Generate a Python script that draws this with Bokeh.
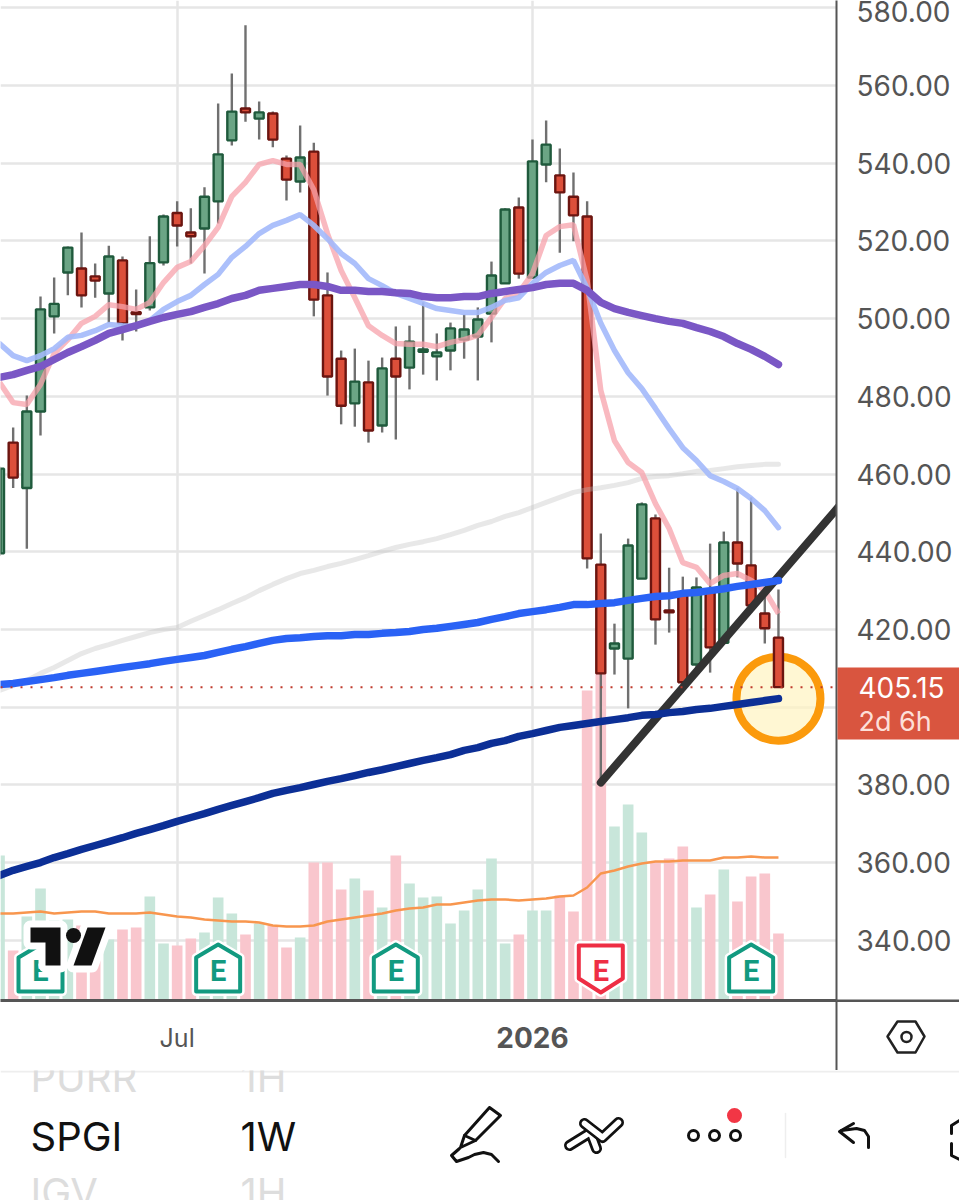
import numpy as np
from bokeh.embed import file_html
from bokeh.models import (ColumnDataSource, FixedTicker, LinearAxis, NumeralTickFormatter,
                          Range1d, Span)
from bokeh.plotting import figure
from bokeh.resources import INLINE
from bokeh.core.properties import value

ticker_name = "SPGI"
interval = "1W"
last_price = 405.15
countdown = "2d 6h"
price_ticks = [340, 360, 380, 400, 420, 440, 460, 480, 500, 520, 540, 560, 580]
time_ticks = [13, 39]
time_labels = ["Jul", "2026"]
earnings_up = [3, 16, 29, 55]
earnings_down = [44]

opens = [439.6,468.1,456.4,476.1,500.6,511.9,512.9,510.9,506.5,515.0,501.7,502.9,514.5,527.2,522.2,523.2,530.2,545.9,554.1,551.5,552.8,541.2,535.3,543.0,506.0,489.7,478.2,483.6,472.5,489.7,487.4,491.5,490.3,491.8,494.6,495.4,501.3,509.1,528.6,510.6,539.7,536.9,531.4,526.3,436.7,415.1,412.5,433.1,448.6,424.9,429.5,411.0,430.0,416.6,442.4,436.5,424.1,417.9]
highs = [461.9,472.0,480.2,505.7,510.6,518.6,522.2,514.2,518.8,516.0,507.5,521.2,526.8,530.2,528.4,533.8,555.4,563.1,575.5,555.9,553.3,542.0,549.7,545.3,511.9,491.8,492.3,489.2,490.0,498.0,498.2,504.2,496.2,499.0,501.1,502.9,514.7,528.4,531.2,546.1,551.0,543.8,537.6,530.2,444.7,421.5,443.4,452.7,449.6,435.9,433.6,433.4,442.1,445.2,456.5,454.0,430.8,430.3]
lows = [439.0,456.4,440.8,469.9,496.2,506.0,502.9,505.4,498.8,494.4,496.7,502.1,513.7,518.6,514.2,511.6,524.5,544.6,550.7,546.1,544.1,530.4,532.5,500.6,480.2,472.8,472.2,468.1,470.7,468.9,481.8,485.6,484.1,486.7,489.7,484.1,493.9,509.1,510.3,510.6,535.1,517.0,519.9,435.7,380.6,408.4,399.7,433.1,416.1,419.2,403.8,408.9,408.9,416.6,433.4,424.4,416.4,405.1]
closes = [461.4,459.1,476.1,502.4,503.8,518.3,506.0,509.8,516.0,498.8,501.2,514.3,526.3,524.0,521.2,531.4,542.3,553.3,553.1,553.1,546.1,535.8,541.5,504.9,485.1,477.6,483.8,471.2,487.2,485.1,494.1,492.1,491.3,497.5,497.2,499.8,511.1,528.1,511.6,540.5,544.8,532.5,526.6,438.3,408.7,416.4,441.6,452.2,422.6,424.4,406.4,430.8,415.4,442.4,437.0,426.2,420.3,405.15]
volumes = [2.90,1.00,1.68,2.24,1.60,1.62,1.50,1.50,1.22,1.42,1.46,2.08,1.14,1.10,1.24,1.36,2.06,1.74,1.32,1.54,1.50,1.06,1.26,2.76,2.76,2.22,2.44,2.20,1.86,2.90,2.34,2.06,2.08,1.54,1.80,2.22,2.84,1.14,1.32,1.80,1.80,2.10,1.78,6.20,6.54,3.48,3.92,3.36,2.78,2.84,3.08,1.86,2.12,2.62,1.98,2.48,2.54,1.34]
volume_ma = [1.74,1.74,1.76,1.78,1.74,1.76,1.78,1.78,1.74,1.74,1.74,1.76,1.72,1.68,1.66,1.62,1.60,1.58,1.58,1.56,1.50,1.48,1.48,1.50,1.58,1.62,1.66,1.70,1.74,1.80,1.84,1.86,1.92,1.92,1.96,2.00,2.02,2.02,2.00,2.02,2.04,2.08,2.10,2.26,2.54,2.60,2.68,2.74,2.78,2.78,2.80,2.80,2.80,2.86,2.86,2.88,2.86,2.86]
ma_pink = [483.6,478.4,477.9,483.1,491.0,494.6,498.8,500.6,503.6,503.1,502.4,504.2,509.3,513.2,514.7,518.8,523.5,531.5,535.1,539.7,540.7,539.7,539.7,533.2,521.9,512.4,505.4,498.2,495.7,493.6,493.4,493.4,492.8,493.9,494.6,495.7,500.3,505.2,506.7,511.6,521.4,523.7,524.2,509.8,481.5,468.6,463.0,460.4,452.4,446.0,437.2,436.0,431.8,433.9,434.4,432.6,430.0,424.1]
ma_light_blue = [493.6,490.5,489.2,490.5,492.3,495.2,495.7,496.9,498.5,498.2,498.0,499.5,502.4,504.4,506.0,508.8,511.4,515.8,518.6,521.9,524.0,525.3,526.8,524.0,520.6,516.8,514.2,510.3,508.5,506.5,505.2,503.9,502.6,502.1,501.6,501.6,502.9,504.7,505.4,509.1,511.9,513.7,515.0,507.8,498.8,491.8,486.1,482.0,476.9,471.7,466.8,463.5,459.6,458.1,456.3,453.7,450.6,446.2]
ma_purple = [484.9,485.6,486.7,487.7,489.5,491.3,492.8,494.4,496.2,497.2,498.2,499.3,500.3,501.1,501.8,502.9,503.9,505.2,506.0,507.3,507.8,508.3,508.8,508.8,508.3,507.3,507.3,507.0,507.0,506.7,506.5,505.7,505.4,505.4,505.7,505.7,506.5,507.0,507.5,508.0,508.8,509.1,509.1,507.3,504.2,502.6,501.6,500.8,500.0,499.3,498.8,497.7,496.7,495.4,493.6,492.1,490.3,488.2]
ma_grey = [404.3,405.6,406.9,408.7,410.2,412.0,413.8,415.1,416.1,417.2,418.2,419.2,420.0,420.5,422.1,423.6,425.1,426.7,428.2,430.0,431.6,433.1,434.4,435.2,436.2,437.0,438.0,439.0,440.1,441.1,441.9,442.6,443.4,444.4,445.5,446.8,447.8,449.1,450.1,451.4,452.7,454.0,455.3,456.0,456.5,457.1,457.8,458.9,459.4,459.6,460.1,460.7,460.9,461.4,461.9,462.2,462.5,462.5]
ma_blue = [405.8,406.1,406.6,407.1,407.6,408.2,408.7,409.2,409.7,410.2,410.7,411.2,411.8,412.3,412.8,413.3,414.1,414.9,415.6,416.4,417.2,417.7,417.9,418.2,418.4,418.4,418.7,418.7,419.0,419.2,419.5,420.0,420.3,420.8,421.3,421.8,422.6,423.3,424.1,424.6,425.1,425.7,426.4,426.4,426.7,426.9,427.5,428.0,428.5,428.7,429.3,429.5,430.0,430.5,431.1,431.6,432.1,432.6]
ma_navy = [356.7,358.0,359.0,360.0,361.3,362.3,363.4,364.4,365.4,366.4,367.5,368.5,369.5,370.6,371.6,372.6,373.7,374.7,375.7,376.7,377.8,378.6,379.3,380.1,380.9,381.6,382.4,383.2,383.9,384.7,385.5,386.3,387.0,387.8,388.9,389.6,390.7,391.4,392.5,393.2,394.0,394.8,395.3,395.8,396.3,396.8,397.3,397.9,398.1,398.6,398.9,399.4,399.7,400.2,400.7,401.2,401.7,402.2]
trend_x = [44, 62]
trend_y = [380.6, 454.0]
circle_x = [57]
circle_y = [402.2]

FONT = "Inter"
AXIS_TEXT = "#555555"
GREEN_FILL, GREEN_EDGE = "#6ba585", "#1f5a3c"
RED_FILL, RED_EDGE = "#dc4f3a", "#6b1510"
GREEN_VOL, RED_VOL = "#c8e6da", "#f9c6cd"

n = len(closes)
idx = np.arange(n)
up = np.array(closes) >= np.array(opens)
src = ColumnDataSource(dict(
    x=idx, h=highs, l=lows,
    top=np.maximum(opens, closes), bottom=np.minimum(opens, closes),
    fill=[GREEN_FILL if u else RED_FILL for u in up],
    edge=[GREEN_EDGE if u else RED_EDGE for u in up],
    vol=volumes,
    volcolor=[GREEN_VOL if u else RED_VOL for u in up],
))

BAR = 13.666
PPX = 0.2574
X = lambda px: (px + 1) / BAR          # screen px to bar index, for decoration only
Y = lambda py: 581.9 - py * PPX        # screen px to price, for decoration only
V = lambda py: (1000 - py) / 50        # screen px to volume, for decoration only

p = figure(width=959, height=1070, output_backend="svg", toolbar_location=None,
           x_range=Range1d(X(0), X(836)), y_range=Range1d(Y(1000), Y(0)),
           x_axis_location=None, y_axis_location=None,
           min_border_left=0, min_border_top=0, min_border_right=123, min_border_bottom=70,
           outline_line_color=None, background_fill_color="white", border_fill_color="white")
p.extra_y_ranges = {"vol": Range1d(0, 20)}

ax_r = LinearAxis(ticker=FixedTicker(ticks=price_ticks))
ax_r.formatter = NumeralTickFormatter(format="0.00")
ax_b = LinearAxis(ticker=FixedTicker(ticks=time_ticks),
                  major_label_overrides={time_ticks[0]: time_labels[0], time_ticks[1]: " "})
for ax in (ax_r, ax_b):
    ax.major_tick_line_color = None
    ax.minor_tick_line_color = None
    ax.axis_line_color = AXIS_TEXT
    ax.major_label_text_color = AXIS_TEXT
    ax.major_label_text_font = FONT
    ax.major_label_text_font_size = "28px"
ax_r.axis_line_width = 2
ax_b.axis_line_width = 3
ax_r.major_label_standoff = 14
ax_b.major_label_standoff = 16
ax_b.major_label_text_font_size = "25px"
p.add_layout(ax_r, "right")
p.add_layout(ax_b, "below")

p.xgrid.ticker = FixedTicker(ticks=time_ticks)
p.ygrid.ticker = FixedTicker(ticks=price_ticks)
for g in (p.xgrid, p.ygrid):
    g.grid_line_color = "#e6e6e6"
    g.grid_line_width = 2.5

# volume pane
p.vbar(x="x", top="vol", bottom=0, width=0.78, source=src, fill_color="volcolor",
       line_color=None, y_range_name="vol")
p.line(idx, volume_ma, color="#f8964e", line_width=2.5, y_range_name="vol")

# highlight circle
p.scatter(circle_x, circle_y, size=84, fill_color="#fff3c0", fill_alpha=0.7,
          line_color="#fb9a0c", line_width=8)

# price line
p.add_layout(Span(location=last_price, dimension="width", line_color="#c0392b",
                  line_dash="2 8", line_width=2))

# candles
p.segment(x0="x", x1="x", y0="l", y1="h", source=src, line_color="#707070", line_width=2.4)
p.vbar(x="x", top="top", bottom="bottom", width=0.66, source=src, fill_color="fill",
       line_color="edge", line_width=2.4)

# averages
p.line(idx, ma_grey, color="#bdbdbd", alpha=0.35, line_width=5, line_cap="round")
p.line(idx, ma_pink, color="#f7a1ab", alpha=0.75, line_width=5.5)
p.line(idx, ma_light_blue, color="#a3b9fb", alpha=0.9, line_width=5.5, line_cap="round")
p.line(idx, ma_purple, color="#7a57c5", line_width=7.5, line_cap="round")
p.line(trend_x, trend_y, color="#333333", line_width=8, line_cap="round")
p.line(idx, ma_blue, color="#2a62f5", line_width=7.5, line_cap="round")
p.line(idx, ma_navy, color="#0c2f96", line_width=7.5, line_cap="round")

# earnings markers
up_shape = [(0, -24), (22, -11), (22, 23), (-22, 23), (-22, -11)]
down_shape = [(-22, -23), (22, -23), (22, 10), (0, 24), (-22, 10)]
def marker(i, shape, color):
    cx = -1 + BAR * i
    xs = [X(cx + dx) for dx, dy in shape]
    ys = [V(968 + dy) for dx, dy in shape]
    p.patch(xs, ys, fill_color="white", line_color="white", line_width=9, line_join="round",
            y_range_name="vol")
    p.patch(xs, ys, fill_color="white", line_color=color, line_width=4, line_join="round",
            y_range_name="vol")
    p.text([i], [V(970)], text=["E"], text_color=color, text_font=value("Roboto"),
           text_font_style="bold", text_font_size="29px", text_align="center",
           text_baseline="middle", y_range_name="vol")
for i in earnings_up:
    marker(i, up_shape, "#129a80")
for i in earnings_down:
    marker(i, down_shape, "#ee2e44")

# watermark
logo_t = [(30, 927), (60, 927), (60, 965), (45, 965), (45, 942), (30, 942)]
logo_s = [(87, 927), (105, 927), (91, 965), (73, 965)]
for shape in (logo_t, logo_s):
    xs = [X(a) for a, b in shape]
    ys = [Y(b) for a, b in shape]
    p.patch(xs, ys, fill_color="white", line_color="white", line_width=14, line_join="round")
for shape in (logo_t, logo_s):
    xs = [X(a) for a, b in shape]
    ys = [Y(b) for a, b in shape]
    p.patch(xs, ys, fill_color="#111111", line_color=None)
p.scatter([X(73)], [Y(935)], size=15, fill_color="#111111", line_color=None)

# overlay for what sits outside the plot frame: price tag, axis extensions, icon, bold label
r = figure(width=959, height=1070, output_backend="svg", toolbar_location=None,
           x_range=Range1d(0, 959), y_range=Range1d(1070, 0),
           x_axis_location=None, y_axis_location=None, min_border=0,
           outline_line_color=None, background_fill_alpha=0, border_fill_alpha=0,
           styles={"position": "absolute", "left": "0px", "top": "0px"})
r.grid.visible = False
r.quad(left=[835], right=[837], top=[1000], bottom=[1070], color=AXIS_TEXT, line_color=None)
r.quad(left=[836], right=[959], top=[999], bottom=[1001.5], color=AXIS_TEXT, line_color=None)
r.quad(left=[837], right=[959], top=[667], bottom=[739], color="#d9553f", line_color=None)
r.text([858], [687], text=[f"{last_price:.2f}"], text_color="white", text_font=value(FONT),
       text_font_size="28px", text_baseline="middle")
r.text([858], [720.5], text=[countdown], text_color="#fddfd8", text_font=value(FONT),
       text_font_size="27px", text_baseline="middle")
r.text([-1 + BAR * time_ticks[1]], [1037], text=[time_labels[1]], text_color=AXIS_TEXT,
       text_font=value(FONT), text_font_style="bold", text_font_size="28px",
       text_align="center", text_baseline="middle")
hexagon = [(887, 1036), (897, 1021), (915, 1021), (924, 1036), (915, 1052), (897, 1052)]
r.patch([a for a, b in hexagon], [b for a, b in hexagon], fill_alpha=0, line_color="#222222",
        line_width=2.5, line_join="round")
r.scatter([906], [1036.5], size=10, fill_alpha=0, line_color="#222222", line_width=2.5)

# bottom bar
q = figure(width=959, height=130, output_backend="svg", toolbar_location=None,
           x_range=Range1d(0, 959), y_range=Range1d(1200, 1070),
           x_axis_location=None, y_axis_location=None, min_border=0,
           outline_line_color=None, background_fill_color="white", border_fill_color="white",
           styles={"position": "absolute", "left": "0px", "top": "1070px"})
q.grid.visible = False
q.line([0, 959], [1071, 1071], color="#eeeeee", line_width=2)

def bar_text(x, y, t, color):
    q.text([x], [y], text=[t], text_color=color, text_font=value(FONT), text_font_size="40px",
           text_baseline="alphabetic", text_align="left")
bar_text(30, 1077, "PURR", "#dddddd")
bar_text(240, 1077, "1H", "#dddddd")
bar_text(30, 1136, ticker_name, "#111111")
bar_text(240, 1136, interval, "#111111")
bar_text(30, 1192, "IGV", "#dddddd")
bar_text(240, 1192, "1H", "#dddddd")

INK = "#111111"
def stroke(pts, w=3, color=INK):
    q.line([a for a, b in pts], [b for a, b in pts], color=color, line_width=w,
           line_cap="round", line_join="round")
stroke([(489, 1107), (464, 1135), (460, 1147), (475, 1140), (500, 1115), (489, 1107)])
stroke([(464, 1135), (475, 1140)])
stroke([(498, 1161), (491, 1154), (483, 1152), (474, 1154), (468, 1157), (456, 1161), (451, 1155), (459, 1148)])
for pts in ([(569, 1145), (590, 1132), (596, 1148)], [(584, 1123), (602, 1137), (618, 1122)]):
    stroke(pts, 11)
    stroke(pts, 5.5, "white")
q.scatter([693, 714, 735], [1135, 1135, 1135], size=10, fill_color="white", line_color=INK, line_width=3)
q.scatter([734], [1115], size=15, fill_color="#f23645", line_color=None)
stroke([(785, 1113), (785, 1157)], 1.5, "#eeeeee")
stroke([(868, 1147), (868, 1136), (864, 1130), (856, 1128), (841, 1130)])
stroke([(853, 1123), (839, 1131), (853, 1142)])
stroke([(959, 1120), (951, 1125), (951, 1133)])
stroke([(951, 1143), (951, 1155), (959, 1159)])

open("out.html", "w").write(file_html([p, r, q], INLINE))
